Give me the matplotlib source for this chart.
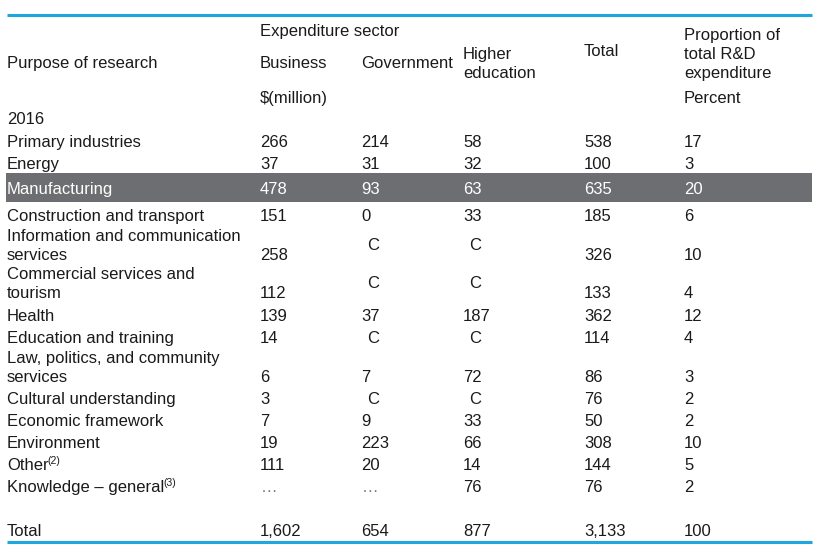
import matplotlib.pyplot as plt
from matplotlib.patches import Rectangle

plt.rcParams['font.family'] = ['Liberation Sans', 'DejaVu Sans']

# table contents
purposes = ["Primary industries", "Energy", "Manufacturing", "Construction and transport",
            "Information and communication\nservices", "Commercial services and\ntourism",
            "Health", "Education and training", "Law, politics, and community\nservices",
            "Cultural understanding", "Economic framework", "Environment",
            "Other", "Knowledge – general"]
footnotes = {"Other": "(2)", "Knowledge – general": "(3)"}
business = ["266", "37", "478", "151", "258", "112", "139", "14", "6", "3", "7", "19", "111", "…"]
government = ["214", "31", "93", "0", "C", "C", "37", "C", "7", "C", "9", "223", "20", "…"]
higher_ed = ["58", "32", "63", "33", "C", "C", "187", "C", "72", "C", "33", "66", "14", "76"]
total = ["538", "100", "635", "185", "326", "133", "362", "114", "86", "76", "50", "308", "144", "76"]
proportion = ["17", "3", "20", "6", "10", "4", "12", "4", "3", "2", "2", "10", "5", "2"]
totals_row = ["1,602", "654", "877", "3,133", "100"]
highlight = "Manufacturing"

# layout (pixel coords)
W, H = 819, 555
col_x = [7, 260, 361, 463, 584, 684]
row_y = [141, 163, 188, 215, 235, 273, 315, 337, 357, 398, 420, 442, 464, 486]
line_gap = 19
fs = 12
txt = '#1a1a1a'
blue = '#1fa7dd'

fig = plt.figure(figsize=(W / 100, H / 100), dpi=100)
ax = fig.add_axes([0, 0, 1, 1])
ax.set_xlim(0, W)
ax.set_ylim(H, 0)
ax.axis('off')
renderer = fig.canvas.get_renderer()

def put(x, y, s, color=txt, **kw):
    return ax.text(x, y, s, fontsize=fs, color=color, va='center_baseline', ha='left', **kw)

# rules
ax.plot([7, 812], [15, 15], color=blue, lw=2.2, solid_capstyle='butt')
ax.plot([7, 812], [542, 542], color=blue, lw=2.2, solid_capstyle='butt')

# header
put(col_x[1], 30, "Expenditure sector")
put(col_x[0], 62, "Purpose of research")
put(col_x[1], 62, "Business")
put(col_x[2], 62, "Government")
put(col_x[3], 53, "Higher")
put(col_x[3], 72, "education")
put(col_x[4], 50, "Total")
put(col_x[5], 34, "Proportion of")
put(col_x[5], 53, "total R&D")
put(col_x[5], 72, "expenditure")
put(col_x[1], 97, "$(million)")
put(col_x[5], 97, "Percent")
put(col_x[0], 118, "2016")

for i, name in enumerate(purposes):
    y = row_y[i]
    lines = name.split("\n")
    color = txt
    if name == highlight:
        ax.add_patch(Rectangle((6, y - 15), 806, 29, facecolor='#6d6e71', edgecolor='none'))
        color = 'white'
    for j, ln in enumerate(lines):
        t = put(col_x[0], y + j * line_gap, ln, color=color)
    if name in footnotes:
        bb = t.get_window_extent(renderer)
        xr = ax.transData.inverted().transform((bb.x1, 0))[0]
        ax.text(xr - 1, y - 4, footnotes[name], fontsize=fs * 0.62, color=color,
                va='center_baseline', ha='left')
    ybot = y + (len(lines) - 1) * line_gap
    ymid = y + (len(lines) - 1) * line_gap / 2
    vals = [business[i], government[i], higher_ed[i], total[i], proportion[i]]
    for k, v in enumerate(vals):
        if v == "C":
            put(col_x[k + 1] + 6, ymid, v, color=color)
        elif v == "…":
            put(col_x[k + 1] + 1, ybot, v, color='#777777')
        else:
            put(col_x[k + 1], ybot, v, color=color)

put(col_x[0], 530, "Total")
for k, v in enumerate(totals_row):
    put(col_x[k + 1], 530, v)

fig.savefig("out.png", dpi=100)
